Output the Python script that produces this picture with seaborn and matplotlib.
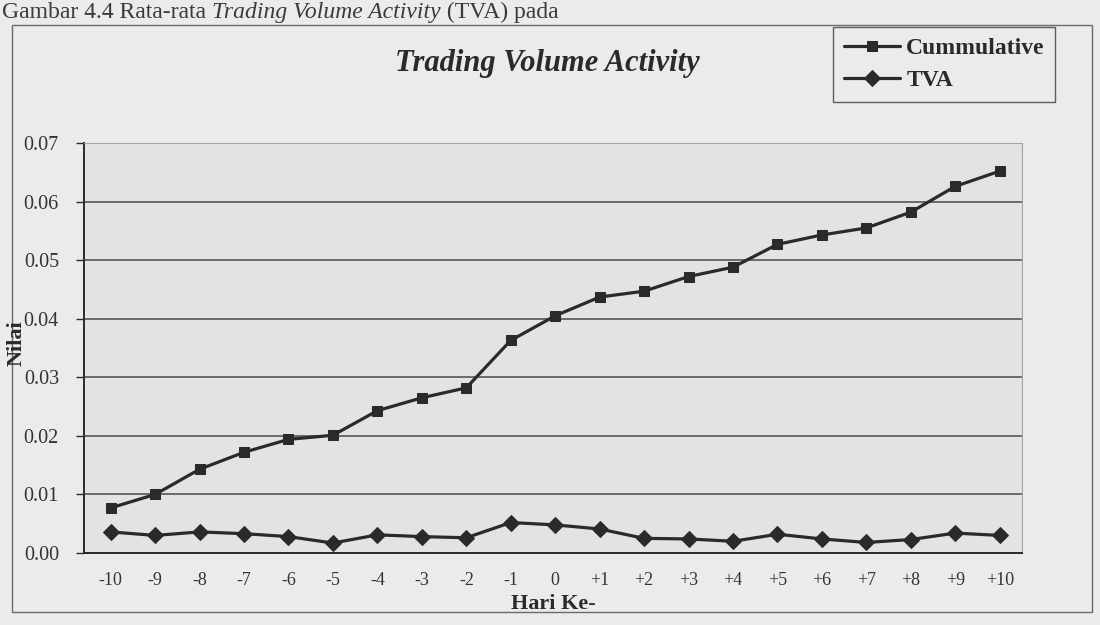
import pandas as pd
import matplotlib.pyplot as plt
import matplotlib.patches as patches
import seaborn as sns

sns.set_theme(style="white")
plt.rcParams['font.family'] = ['Liberation Serif', 'DejaVu Serif']

OUTPUT_FILE = "out.png"

# values
hari = ["-10", "-9", "-8", "-7", "-6", "-5", "-4", "-3", "-2", "-1", "0",
        "+1", "+2", "+3", "+4", "+5", "+6", "+7", "+8", "+9", "+10"]
cummulative = [0.0077, 0.0100, 0.0143, 0.0172, 0.0194, 0.0201, 0.0243, 0.0265,
               0.0282, 0.0363, 0.0405, 0.0437, 0.0447, 0.0472, 0.0488, 0.0527,
               0.0543, 0.0555, 0.0582, 0.0626, 0.0652]
tva = [0.0036, 0.0030, 0.0036, 0.0033, 0.0028, 0.0017, 0.0031, 0.0028, 0.0026,
       0.0052, 0.0048, 0.0041, 0.0025, 0.0024, 0.0020, 0.0032, 0.0024, 0.0018,
       0.0023, 0.0034, 0.0030]
y_ticks = [0.00, 0.01, 0.02, 0.03, 0.04, 0.05, 0.06, 0.07]

PAPER = "#ebebe9"
PLOT_BG = "#e3e3e2"
INK = "#2a2a2a"


def build_frame():
    df = pd.DataFrame({"Hari": hari * 2,
                       "Nilai": cummulative + tva,
                       "Seri": ["Cummulative"] * len(hari) + ["TVA"] * len(hari)})
    return df


def add_caption(fig):
    # caption line of the scanned page
    fig.canvas.draw()
    renderer = fig.canvas.get_renderer()
    x = 2 / 1100
    parts = [("Gambar 4.4 Rata-rata ", "normal"),
             ("Trading Volume Activity", "italic"),
             (" (TVA) pada", "normal")]
    for txt, style in parts:
        t = fig.text(x, 1 - 18 / 625, txt, fontsize=17, style=style,
                     color="#3a3a3a", va="baseline", ha="left")
        bb = t.get_window_extent(renderer)
        x += bb.width / fig.bbox.width


def plot_tva(df):
    fig = plt.figure(figsize=(11, 6.25), dpi=100)
    fig.patch.set_facecolor(PAPER)

    # outer chart frame
    fig.patches.append(patches.Rectangle((12 / 1100, 1 - 612 / 625), 1080 / 1100, 587 / 625,
                                         transform=fig.transFigure, fill=False,
                                         edgecolor="#6a6a6a", linewidth=1.0))

    ax = fig.add_axes([84 / 1100, 1 - 553 / 625, 938 / 1100, 410 / 625])
    ax.set_facecolor(PLOT_BG)

    styles = {"Cummulative": ("s", 6.5), "TVA": ("D", 8.5)}
    for name, (marker, size) in styles.items():
        sns.lineplot(data=df[df["Seri"] == name], x="Hari", y="Nilai", ax=ax,
                     marker=marker, markersize=size, color=INK, markeredgecolor=INK,
                     linewidth=2.3, label=name, sort=False)

    ax.set_xlim(-0.6, len(hari) - 0.55)
    ax.set_ylim(0, 0.07)
    ax.set_yticks(y_ticks)
    ax.set_yticklabels([f"{v:.2f}" for v in y_ticks], fontsize=14.5, color="#333333")
    ax.set_xticks(range(len(hari)))
    ax.set_xticklabels(hari, fontsize=13, color="#333333")
    ax.set_xticks([i - 0.5 for i in range(len(hari) + 1)], minor=True)
    ax.tick_params(axis="x", which="major", length=0, pad=14)
    ax.tick_params(axis="x", which="minor", direction="out", length=6, width=1, color=INK)
    ax.tick_params(axis="y", direction="out", length=6, width=1, color=INK, pad=12, left=True)

    ax.grid(axis="y", color="#4a4a4a", linewidth=1.1)
    ax.grid(axis="x", visible=False)
    for side in ["left", "bottom"]:
        ax.spines[side].set_color(INK)
        ax.spines[side].set_linewidth(1.4)
    for side in ["top", "right"]:
        ax.spines[side].set_color("#a5a5a5")
        ax.spines[side].set_linewidth(0.8)

    ax.set_xlabel("Hari Ke-", fontsize=16, fontweight="bold", color=INK, labelpad=3)
    ax.set_ylabel("")
    fig.text(17 / 1100, 1 - 343 / 625, "Nilai", rotation=90, fontsize=16,
             fontweight="bold", color=INK, ha="center", va="center")

    fig.text(547 / 1100, 1 - 63 / 625, "Trading Volume Activity", fontsize=22,
             fontweight="bold", style="italic", color=INK, ha="center", va="center")

    leg = ax.legend(loc="upper left", bbox_to_anchor=(833 / 1100, 1 - 27 / 625),
                    bbox_transform=fig.transFigure, borderaxespad=0, fancybox=False,
                    handlelength=2.4, handletextpad=0.25, labelspacing=0.45,
                    borderpad=0.45, prop={"size": 17, "weight": "bold"})
    leg.get_frame().set_edgecolor("#3a3a3a")
    leg.get_frame().set_facecolor(PAPER)
    leg.get_frame().set_linewidth(1.0)
    for text in leg.get_texts():
        text.set_color(INK)

    add_caption(fig)
    fig.savefig(OUTPUT_FILE, dpi=100, facecolor=fig.get_facecolor())
    plt.close(fig)


def main():
    df = build_frame()
    plot_tva(df)


if __name__ == "__main__":
    main()
